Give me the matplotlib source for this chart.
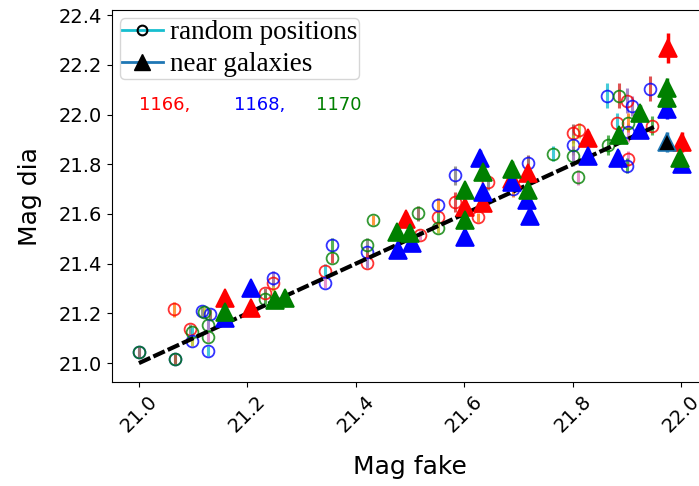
import matplotlib.pyplot as plt
from matplotlib.lines import Line2D

# fake vs. measured magnitudes, three chips (1166, 1168, 1170)
# random positions (open circles)
rand_red_fake = [21.065, 21.094, 21.232, 21.247, 21.343, 21.421, 21.518, 21.552, 21.583,
                 21.625, 21.644, 21.800, 21.812, 21.882, 21.900, 21.902, 21.946]
rand_red_dia = [21.217, 21.137, 21.281, 21.321, 21.369, 21.402, 21.514, 21.586, 21.647,
                21.586, 21.727, 21.924, 21.936, 21.968, 22.056, 21.823, 21.956]
rand_red_err = [0.03, 0.02, 0.02, 0.03, 0.03, 0.02, 0.02, 0.03, 0.04,
                0.02, 0.03, 0.04, 0.03, 0.04, 0.05, 0.03, 0.04]

rand_blue_fake = [21.000, 21.066, 21.116, 21.131, 21.098, 21.127, 21.247, 21.343, 21.356,
                  21.421, 21.552, 21.583, 21.718, 21.800, 21.863, 21.910, 21.902, 21.900,
                  21.943, 21.690]
rand_blue_dia = [21.044, 21.016, 21.209, 21.197, 21.088, 21.048, 21.341, 21.321, 21.474,
                 21.446, 21.635, 21.755, 21.807, 21.876, 22.076, 22.036, 21.928, 21.795,
                 22.104, 21.700]
rand_blue_err = [0.02, 0.02, 0.02, 0.02, 0.02, 0.02, 0.03, 0.02, 0.03,
                 0.02, 0.03, 0.04, 0.03, 0.04, 0.05, 0.04, 0.04, 0.03,
                 0.05, 0.03]

rand_green_fake = [21.000, 21.066, 21.120, 21.098, 21.127, 21.127, 21.232, 21.356, 21.432,
                   21.421, 21.515, 21.552, 21.764, 21.800, 21.810, 21.865, 21.886, 21.902]
rand_green_dia = [21.044, 21.016, 21.205, 21.124, 21.153, 21.104, 21.257, 21.422, 21.574,
                  21.474, 21.602, 21.542, 21.843, 21.835, 21.747, 21.876, 22.076, 21.968]
rand_green_err = [0.02, 0.02, 0.02, 0.02, 0.02, 0.02, 0.02, 0.02, 0.02,
                  0.03, 0.03, 0.02, 0.03, 0.04, 0.03, 0.04, 0.05, 0.04]

# sources injected near galaxies (filled triangles)
gal_red_fake = [21.159, 21.207, 21.493, 21.601, 21.635, 21.688, 21.718, 21.828, 21.976, 22.002]
gal_red_dia = [21.261, 21.221, 21.580, 21.627, 21.643, 21.740, 21.763, 21.904, 22.269, 21.888]
gal_red_err = [0.02, 0.02, 0.03, 0.03, 0.03, 0.03, 0.03, 0.03, 0.06, 0.04]

gal_blue_fake = [21.159, 21.207, 21.478, 21.504, 21.629, 21.635, 21.601, 21.688, 21.716,
                 21.721, 21.828, 21.884, 21.924, 21.974, 22.002]
gal_blue_dia = [21.180, 21.301, 21.454, 21.482, 21.827, 21.687, 21.506, 21.727, 21.655,
                21.590, 21.835, 21.827, 21.936, 22.024, 21.803]
gal_blue_err = [0.02, 0.02, 0.02, 0.02, 0.03, 0.02, 0.02, 0.03, 0.02,
                0.02, 0.03, 0.03, 0.03, 0.04, 0.03]

gal_green_fake = [21.159, 21.251, 21.269, 21.476, 21.500, 21.601, 21.601, 21.635, 21.688,
                  21.718, 21.886, 21.924, 21.974, 21.974, 21.998]
gal_green_dia = [21.205, 21.253, 21.261, 21.526, 21.522, 21.695, 21.574, 21.767, 21.783,
                 21.695, 21.916, 22.008, 22.108, 22.068, 21.827]
gal_green_err = [0.02, 0.02, 0.02, 0.02, 0.02, 0.02, 0.02, 0.03, 0.03,
                 0.03, 0.03, 0.03, 0.04, 0.03, 0.03]

gal_black_fake = [21.974]
gal_black_dia = [21.888]
gal_black_err = [0.04]

one_to_one = [21.0, 21.95]

chip_labels = ["1166,", "1168,", "1170"]
chip_colors = ["red", "blue", "green"]

fig = plt.figure(figsize=(6.99, 4.86), dpi=100)
ax = fig.add_axes([0.160, 0.214, 0.853, 0.765])

ecycle = ["C1", "C7", "C5", "C8", "C9", "C4", "C6", "C2", "C3"]

rand_sets = [(rand_red_fake, rand_red_dia, rand_red_err, "red"),
             (rand_blue_fake, rand_blue_dia, rand_blue_err, "blue"),
             (rand_green_fake, rand_green_dia, rand_green_err, "green")]
k = 0
for xs, ys, es, col in rand_sets:
    for x, y, e in zip(xs, ys, es):
        ec = ecycle[k % len(ecycle)]
        k += 1
        ax.errorbar(x, y, yerr=e, fmt="o", ms=8.5, mfc="none", mec=col, mew=1.3,
                    ecolor=ec, elinewidth=2.2, alpha=0.8, zorder=2)

ax.plot(one_to_one, one_to_one, color="k", ls=(0, (3, 0.8)), lw=3, zorder=3)

gal_sets = [(gal_red_fake, gal_red_dia, gal_red_err, "red", "red"),
            (gal_blue_fake, gal_blue_dia, gal_blue_err, "blue", "blue"),
            (gal_green_fake, gal_green_dia, gal_green_err, "green", "green"),
            (gal_black_fake, gal_black_dia, gal_black_err, "black", "C0")]
for xs, ys, es, col, ec in gal_sets:
    ax.errorbar(xs, ys, yerr=es, fmt="^", ms=13, color=col, mec=ec, mew=1.2,
                ecolor=ec, elinewidth=2.5, zorder=4)

ax.set_xlim(20.95, 22.05)
ax.set_ylim(20.924, 22.42)
ax.set_xticks([21.0, 21.2, 21.4, 21.6, 21.8, 22.0])
ax.set_yticks([21.0, 21.2, 21.4, 21.6, 21.8, 22.0, 22.2, 22.4])
ax.tick_params(axis="both", labelsize=14)
ax.tick_params(axis="x", labelrotation=45)
ax.set_xlabel("Mag fake", fontsize=18, labelpad=14)
ax.set_ylabel("Mag dia", fontsize=18, labelpad=12)

for lab, col, xpos in zip(chip_labels, chip_colors, [0.045, 0.205, 0.343]):
    ax.text(xpos, 0.745, lab, color=col, fontsize=13, transform=ax.transAxes,
            va="center")

handles = [
    Line2D([], [], color="C9", lw=2, marker="o", ms=7, mfc="none", mec="k", mew=1.5),
    Line2D([], [], color="C0", lw=2, marker="^", ms=12, mfc="k", mec="k"),
]
ax.legend(handles, ["random positions", "near galaxies"], loc="upper left",
          prop={"family": "Liberation Serif", "size": 19.5}, borderaxespad=0.3,
          handlelength=1.5, handletextpad=0.25, labelspacing=0.25, borderpad=0.08)

fig.savefig("out.png", dpi=100)
